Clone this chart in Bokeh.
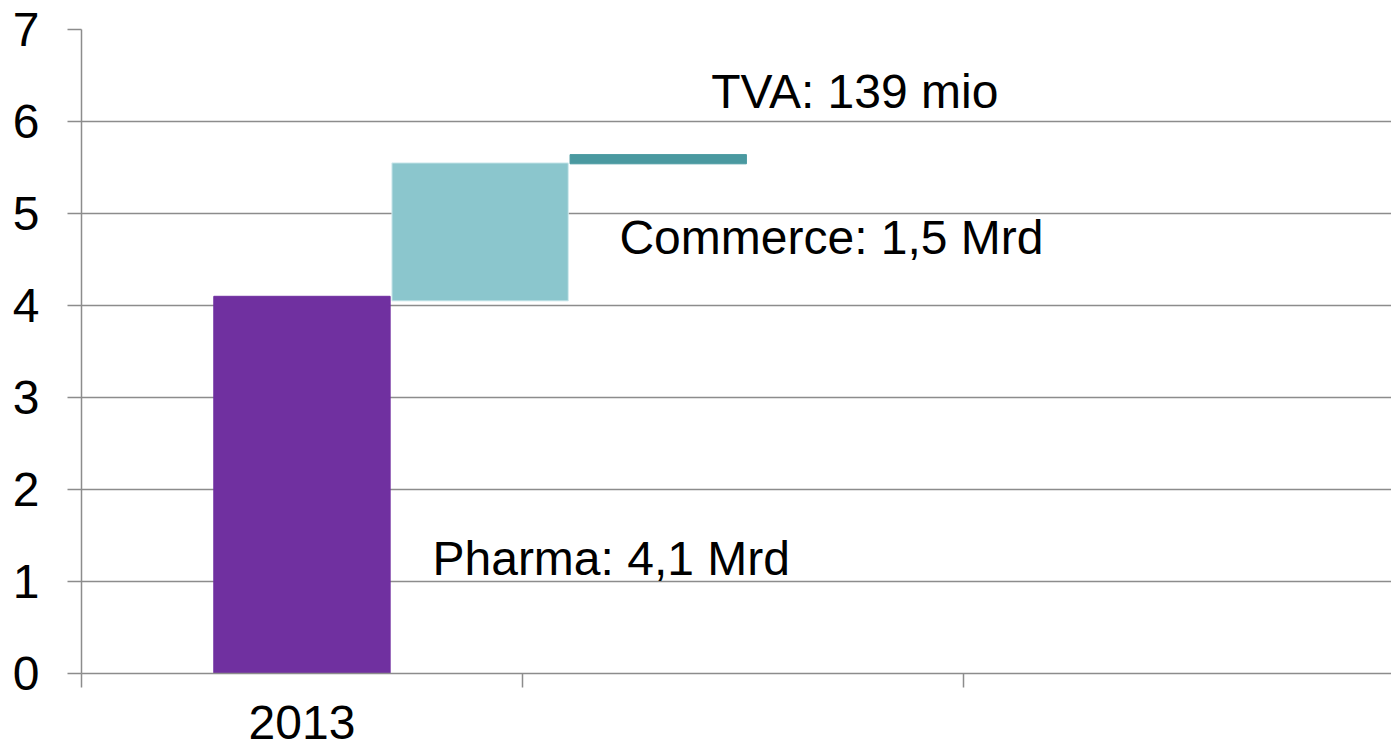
from bokeh.plotting import figure
from bokeh.models import ColumnDataSource, FixedTicker, Range1d
from bokeh.core.properties import value
from bokeh.embed import file_html
from bokeh.resources import INLINE

# ---- data ----
categories = ["2013"]
steps = ["Pharma", "Commerce", "TVA"]
bottoms = [0.0, 4.05, 5.54]
heights = [4.1, 1.5, 0.1]
colors = ["#7030A0", "#8BC6CD", "#4A99A0"]
labels = ["Pharma: 4,1 Mrd", "Commerce: 1,5 Mrd", "TVA: 139 mio"]
label_x = [0.796, 1.220, 1.428]
label_y = [1.255, 4.74, 6.33]
y_ticks = [0, 1, 2, 3, 4, 5, 6, 7]

FONT = "Liberation Sans"
GRID = "#8c8c8c"

step_w = 0.404
xs = [0.5 + i * step_w for i in range(len(steps))]
tops = [b + h for b, h in zip(bottoms, heights)]
src = ColumnDataSource(dict(x=xs, bottom=bottoms, top=tops, color=colors,
                            line=["#7030A0", "#D2EAEE", "#4A99A0"]))

p = figure(width=1391, height=750, output_backend="svg",
           toolbar_location=None, x_range=Range1d(0, 2.971), y_range=Range1d(0, 7),
           min_border_left=81, min_border_top=29, min_border_right=0,
           min_border_bottom=77, background_fill_color="white")
p.outline_line_color = None
p.xgrid.grid_line_color = None
p.ygrid.ticker = FixedTicker(ticks=y_ticks)
p.ygrid.grid_line_color = GRID
p.ygrid.grid_line_width = 1.5

p.vbar(x="x", width=step_w * 0.99, bottom="bottom", top="top", source=src,
       fill_color="color", line_color="line", line_width=1)

p.text(x=label_x, y=label_y, text=labels, text_font=value(FONT),
       text_font_size="48px", text_color="black", text_align="left",
       text_baseline="middle")

# y axis
ya = p.yaxis[0]
ya.ticker = FixedTicker(ticks=y_ticks)
ya.axis_line_color = GRID
ya.axis_line_width = 1.5
ya.major_tick_line_color = GRID
ya.major_tick_line_width = 1.5
ya.major_tick_out = 14
ya.major_tick_in = 0
ya.minor_tick_line_color = None
ya.major_label_standoff = 28
ya.major_label_text_font = FONT
ya.major_label_text_font_size = "48px"
ya.major_label_text_color = "black"

# x axis: category label at the group centre, tick marks at group boundaries
xa = p.xaxis[0]
cat_pos = [i + 0.5 for i in range(len(categories))]
xa.ticker = FixedTicker(ticks=cat_pos, minor_ticks=[0, 1, 2])
xa.major_label_overrides = {c: t for c, t in zip(cat_pos, categories)}
xa.axis_line_color = GRID
xa.axis_line_width = 1.5
xa.major_tick_line_color = None
xa.major_tick_out = 0
xa.major_tick_in = 0
xa.minor_tick_line_color = GRID
xa.minor_tick_line_width = 1.5
xa.minor_tick_out = 14
xa.minor_tick_in = 0
xa.major_label_standoff = 18
xa.major_label_text_line_height = 0.7
xa.major_label_text_font = FONT
xa.major_label_text_font_size = "48px"
xa.major_label_text_color = "black"

open("out.html", "w").write(file_html(p, INLINE))
